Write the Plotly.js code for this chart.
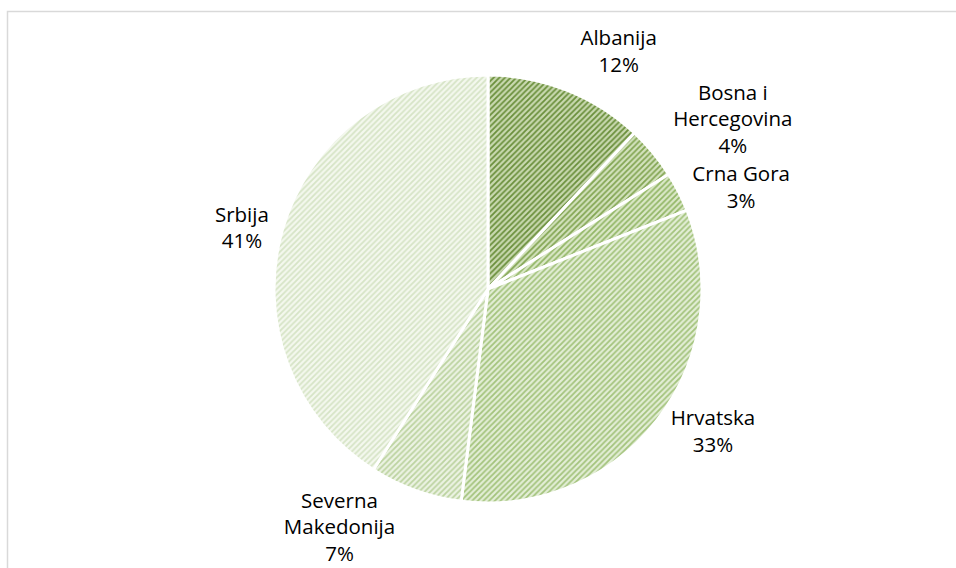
<!DOCTYPE html>
<html>
<head>
<meta charset="utf-8">
<script src="https://cdn.plot.ly/plotly-3.0.1.min.js"></script>
<style>html,body{margin:0;padding:0;background:#fff;}#chart{width:956px;height:568px;}path.textline{display:none;}</style>
</head>
<body>
<div id="chart"></div>
<script>
const countries = ["Albanija", "Bosna i Hercegovina", "Crna Gora", "Hrvatska", "Severna Makedonija", "Srbija"];
const displayLabels = ["Albanija", "Bosna i<br>Hercegovina", "Crna Gora", "Hrvatska", "Severna<br>Makedonija", "Srbija"];
const shares = [12, 4, 3, 33, 7, 41];
const fgColors = ["#6a8f3b", "#82a552", "#92b666", "#a3c37c", "#bcd3a0", "#d6e4c6"];
const bgColors = ["#c9d9b0", "#d3e2bd", "#dbe8c8", "#e3eed6", "#ecf3e3", "#f4f8ee"];

const W = 956, H = 568;
const cx = 488, cy = 289, r = 214;

const trace = {
  type: "pie",
  labels: countries,
  values: shares,
  text: displayLabels,
  texttemplate: "%{text}<br>%{percent:.0%}",
  textposition: "outside",
  sort: false,
  direction: "clockwise",
  rotation: 0,
  hole: 0,
  showlegend: false,
  domain: {x: [(cx - r) / W, (cx + r) / W], y: [1 - (cy + r) / H, 1 - (cy - r) / H]},
  outsidetextfont: {family: "Open Sans, Noto Sans, sans-serif", size: 20.5, color: "#000000"},
  marker: {
    colors: bgColors,
    line: {color: "#ffffff", width: 3},
    pattern: {shape: "/", fgcolor: fgColors, bgcolor: bgColors, size: 4, solidity: 0.45}
  },
  hoverinfo: "label+percent"
};

const layout = {
  width: W, height: H,
  margin: {l: 0, r: 0, t: 0, b: 0},
  paper_bgcolor: "#ffffff",
  plot_bgcolor: "#ffffff",
  shapes: [{
    type: "rect", xref: "paper", yref: "paper",
    x0: 7.5 / W, x1: 1.05, y0: -0.05, y1: 1 - 11.5 / H,
    line: {color: "#d9d9d9", width: 1.5}, fillcolor: "rgba(0,0,0,0)", layer: "below"
  }]
};

Plotly.newPlot("chart", [trace], layout, {displayModeBar: false, staticPlot: true});
</script>
</body>
</html>
